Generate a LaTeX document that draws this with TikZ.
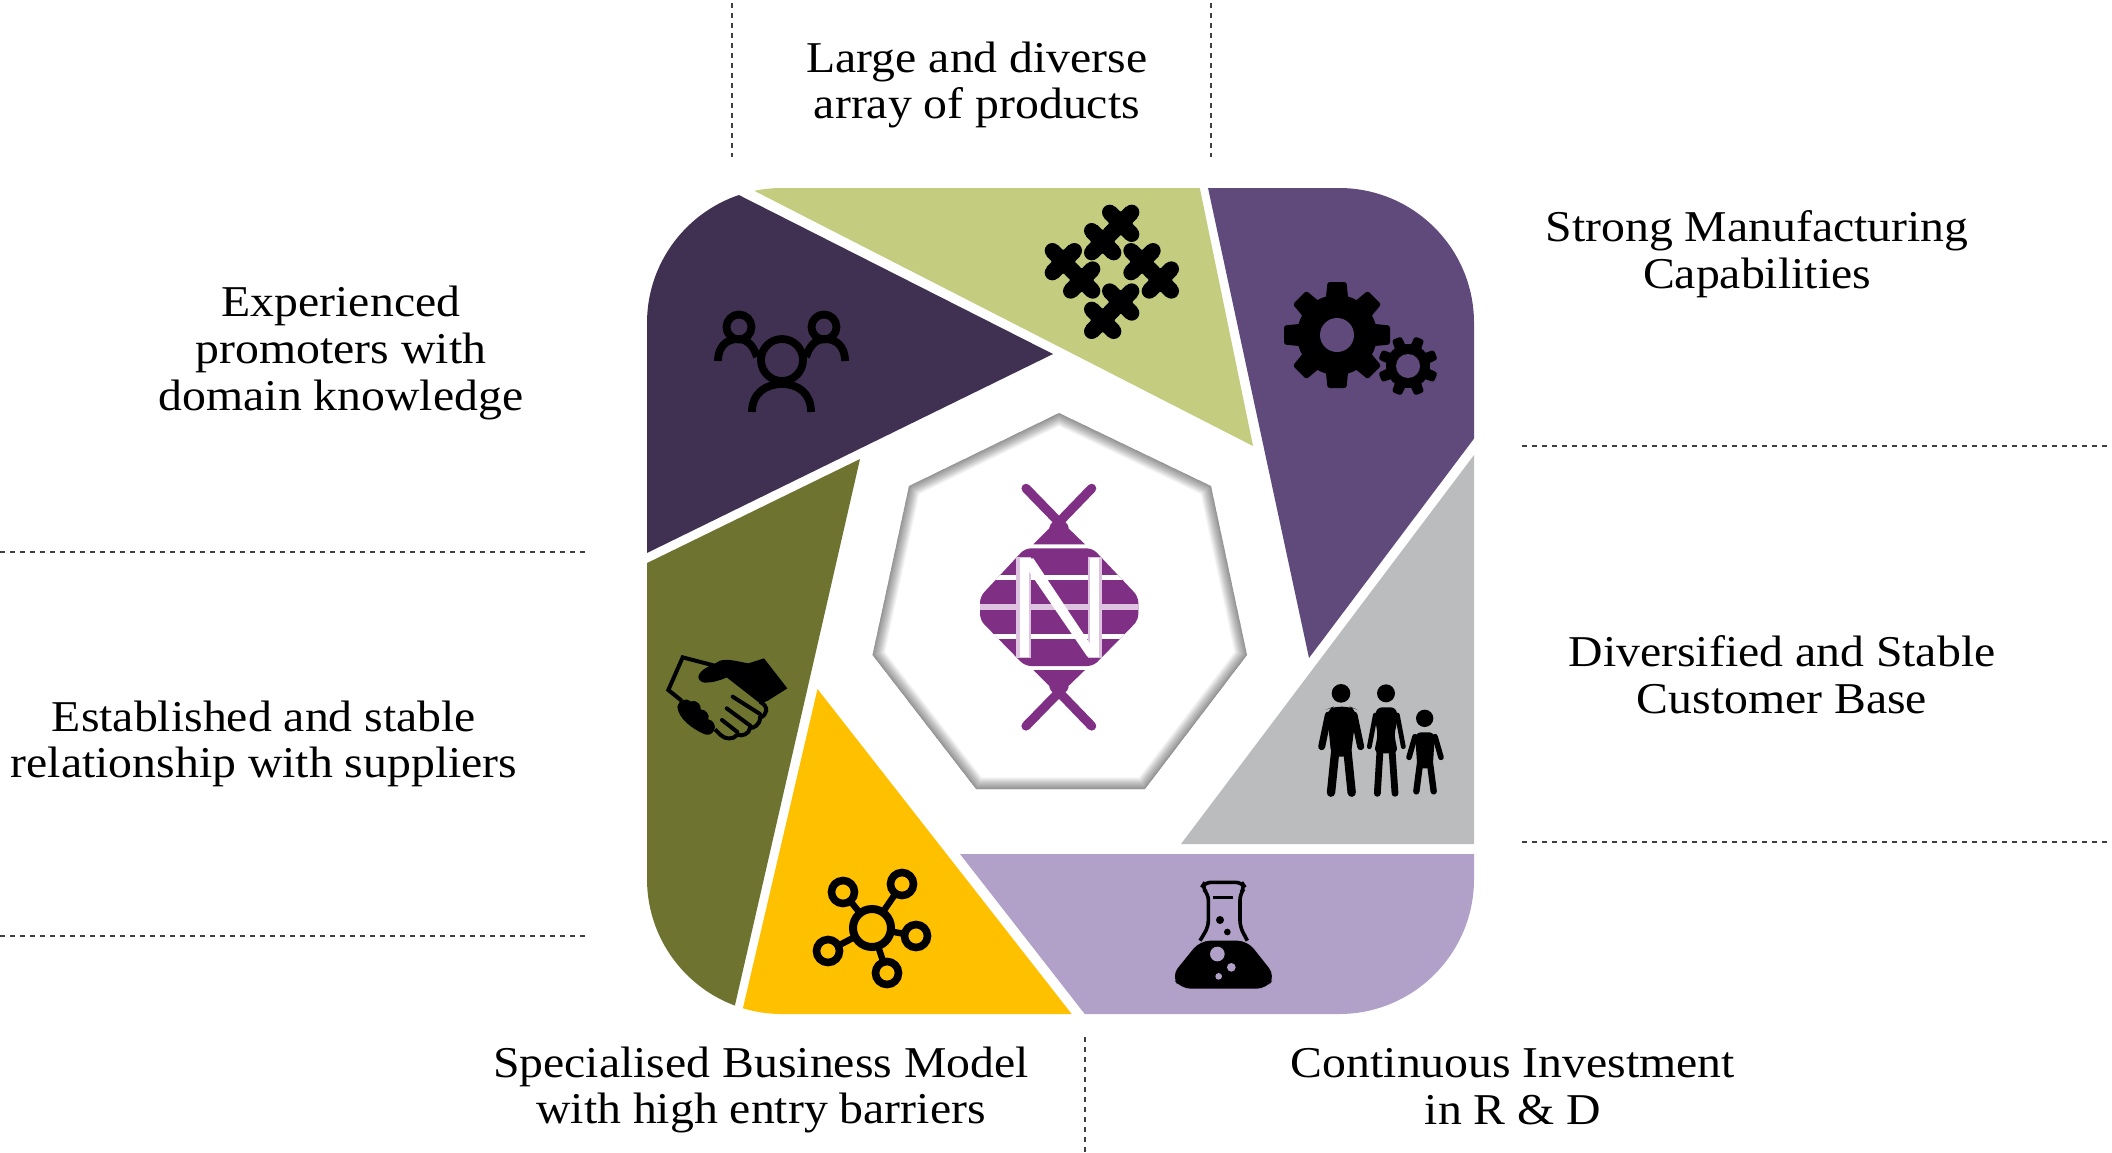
\documentclass[tikz,border=0pt]{standalone}
\usepackage{fontspec}
\setmainfont[FakeStretch=1.085]{Liberation Serif}
\definecolor{cdark}{HTML}{403152}
\definecolor{cgreen}{HTML}{C3CC7F}
\definecolor{cpurple}{HTML}{604A7B}
\definecolor{cgray}{HTML}{BBBCBE}
\definecolor{clav}{HTML}{B1A0C7}
\definecolor{cyellow}{HTML}{FFC000}
\definecolor{colive}{HTML}{6E7430}
\definecolor{clogo}{HTML}{7F2F84}
\definecolor{cpale}{HTML}{DDC3E0}
\tikzset{
  label/.style={font=\fontsize{22}{23.4}\selectfont,align=center,text=black,inner sep=0pt},
  guide/.style={draw=black!75,line width=.7pt,dash pattern=on 2.5pt off 2.5pt},
  shade edge/.style={draw=black,opacity=.018,line join=miter}
}
\newcommand{\pzx}[2]{%
  \fill[black] (#1-33,#2-33) circle (23) (#1+33,#2-33) circle (23) (#1-33,#2+33) circle (23) (#1+33,#2+33) circle (23) (#1,#2) circle (36);
  \draw[black,line width=8pt] (#1-33,#2-33) -- (#1+33,#2+33) (#1+33,#2-33) -- (#1-33,#2+33);
}
\newcommand{\pzchain}[4]{%
  \pzx{#1}{#2}\pzx{#3}{#4}
}
% tooth: centre x, centre y, angle, base half width, tip half width, outer radius
\newcommand{\gtooth}[6]{%
  \fill[black,rounded corners=1.2pt,shift={(#1,#2)},rotate=#3] (#6-25,#4) -- (#6,#5) -- (#6,-#5) -- (#6-25,-#4) -- cycle;
}
\begin{document}
\begin{tikzpicture}[x=.5pt,y=-.5pt]
\useasboundingbox (0,0) rectangle (2112,1152);
\fill[white] (0,0) rectangle (2112,1152);

% dashed guides
\coordinate (g1a) at (732,3); \coordinate (g1b) at (732,157);
\coordinate (g2a) at (1211,3); \coordinate (g2b) at (1211,157);
\coordinate (g3a) at (1522,446); \coordinate (g3b) at (2112,446);
\coordinate (g4a) at (1522,842); \coordinate (g4b) at (2112,842);
\coordinate (g5a) at (0,552); \coordinate (g5b) at (587,552);
\coordinate (g6a) at (0,936); \coordinate (g6b) at (587,936);
\coordinate (g7a) at (1085,1037); \coordinate (g7b) at (1085,1152);
\foreach \n in {1,...,7} \draw[guide] (g\n a) -- (g\n b);

% sectors
\begin{scope}
\clip[rounded corners=67.5pt] (647,188) rectangle (1474,1014);
\fill[cdark] (1053,354) -- (640,145) -- (600,145) -- (600,576) -- cycle;
\fill[cgreen] (1253,446) -- (1194,160) -- (700,163) -- cycle;
\fill[cpurple] (1309,658) -- (1500,404) -- (1500,160) -- (1202,160) -- cycle;
\fill[cgray] (1474,455) -- (1181,844) -- (1500,844) -- (1500,455) -- cycle;
\fill[clav] (960,854) -- (1500,854) -- (1500,1040) -- (1105,1040) -- cycle;
\fill[cyellow] (817.5,689) -- (1092,1040) -- (735.5,1040) -- cycle;
\fill[colive] (860,459) -- (600,586) -- (600,1040) -- (727,1040) -- cycle;
\end{scope}

% central heptagon with inner shadow
\begin{scope}
\clip (1059,413) -- (1211,486) -- (1247,655) -- (1145,789) -- (976,789) -- (872.5,655) -- (909,486) -- cycle;
\foreach \w in {12,11.5,...,0.5}
  \draw[shade edge,line width=\w pt] (1059,413) -- (1211,486) -- (1247,655) -- (1145,789) -- (976,789) -- (872.5,655) -- (909,486) -- cycle;
\end{scope}

% logo
\begin{scope}[shift={(940,450)},scale=.33333]
\begin{scope}
\clip[rounded corners=3pt] (255,295) -- (458,295) -- (595,440) -- (595,510) -- (460,648) -- (255,648) -- (120,510) -- (120,440) -- cycle;
\fill[clogo] (100,280) rectangle (620,660);
\fill[white] (110,375) rectangle (605,390);
\fill[cpale] (110,463) rectangle (605,480);
\fill[white] (110,552) rectangle (605,568);
\fill[cpale] (228,320) rectangle (272,625);
\fill[cpale] (443,320) rectangle (486,625);
\end{scope}
\fill[clogo] (280,283) -- (435,283) -- (375,225) -- (338,225) -- cycle;
\fill[clogo] (280,660) -- (435,660) -- (375,718) -- (338,718) -- cycle;
\draw[clogo,line width=4.6pt,line cap=round] (258,115) -- (372,232) (455,115) -- (342,232);
\draw[clogo,line width=4.6pt,line cap=round] (258,828) -- (372,711) (455,828) -- (342,711);
\fill[white] (240,325) rectangle (266,620);
\fill[white] (450,325) rectangle (476,620);
\fill[white] (240,325) -- (280,325) -- (476,620) -- (442,620) -- cycle;
\end{scope}

% people icon
\begin{scope}[black,line width=3.9pt]
\draw (739,327) circle (12.5);
\draw (824,327) circle (12.5);
\draw (782,360) circle (21);
\draw (752,412) .. controls (752,393) and (766,384) .. (782,384) .. controls (798,384) and (811,393) .. (811,412);
\draw (718,361) .. controls (718,346) and (727,339) .. (738,339) .. controls (748,339) and (754,347) .. (757,357);
\draw (845,361) .. controls (845,346) and (836,339) .. (825,339) .. controls (815,339) and (809,347) .. (806,357);
\end{scope}

% puzzle icon
\begin{scope}[shift={(1030,190)},scale=.33333]
\pzchain{272}{100}{218}{155}
\pzchain{100}{215}{155}{270}
\pzchain{336}{215}{391}{270}
\pzchain{272}{336}{218}{391}
\end{scope}

% gears
\foreach \a in {0,45,...,315} {\gtooth{1337}{335}{\a}{12}{9.5}{53}}
\fill[black] (1337,335) circle (40);
\fill[cpurple] (1337,335) circle (17);
\foreach \a in {22.5,67.5,...,337.5} {\gtooth{1408}{366}{\a}{6.5}{5}{30}}
\fill[black] (1408,366) circle (22);
\fill[cpurple] (1408,366) circle (12);

% handshake
\begin{scope}[shift={(650,640)},scale=.33333]
\draw[black,line width=2pt,line join=miter] (190,76) -- (98,52) -- (55,150) -- (95,182);
\fill[black] (145,110) .. controls (150,85) and (190,75) .. (210,62) .. controls (235,55) and (265,65) .. (295,70) -- (342,55) -- (412,145) -- (352,183) -- (330,190) -- (230,112) .. controls (210,122) and (185,128) .. (165,128) .. controls (155,128) and (145,120) .. (145,110) -- cycle;
\draw[black,line width=2pt] (330,185) .. controls (358,200) and (352,225) .. (330,233) .. controls (330,255) and (310,265) .. (300,264) .. controls (298,282) and (275,290) .. (262,284) .. controls (250,300) and (225,298) .. (212,285) -- (195,268);
\fill[black] (82,200) .. controls (85,180) and (110,172) .. (122,184) .. controls (140,178) and (155,195) .. (152,208) .. controls (168,208) and (180,225) .. (175,238) .. controls (190,240) and (200,258) .. (192,272) .. controls (185,285) and (170,288) .. (158,280) .. controls (125,265) and (85,235) .. (82,200) -- cycle;
\draw[black,line width=2pt,line cap=round] (248,170) -- (330,222) (230,205) -- (302,258) (216,240) -- (262,276);
\end{scope}

% network icon
\foreach \p in {(843,892),(902,884),(916,936),(887,973),(828,951)} {
  \draw[black,line width=3.2pt] (872,928) -- \p;
  \filldraw[fill=cyellow,draw=black,line width=3.8pt] \p circle (11.5);
}
\filldraw[fill=cyellow,draw=black,line width=4pt] (872,928) circle (19);

% flask
\begin{scope}[shift={(1160,870)},scale=.33333]
\draw[black,line width=1.8pt,rounded corners=3pt] (120,212) -- (145,170) -- (145,72) -- (125,52) -- (135,37) -- (245,37) -- (255,52) -- (240,72) -- (240,170) -- (262,212);
\fill[black,rounded corners=5pt] (120,212) -- (262,212) -- (346,318) -- (320,356) -- (62,356) -- (34,318) -- cycle;
\draw[black,line width=1.8pt] (160,82) -- (218,82);
\fill[black] (180,150) circle (12) (202,186) circle (10);
\fill[clav] (172,252) circle (22) (214,292) circle (13) (176,319) circle (10);
\end{scope}

% family
\begin{scope}[shift={(1300,670)},scale=.33333]
\fill[black] (123,70) circle (28) (258,70) circle (27) (374,145) circle (26);
% man
\fill[black,rounded corners=4pt] (80,118) -- (100,110) -- (150,110) -- (170,118) -- (152,260) -- (94,260) -- cycle;
\draw[black,line width=3.5pt,line cap=round] (85,135) -- (65,230) (162,135) -- (182,230);
\draw[black,line width=4.2pt,line cap=round] (106,240) -- (93,368) (142,240) -- (155,368);
% woman
\fill[black,rounded corners=3pt] (228,112) -- (290,112) -- (292,160) -- (282,190) -- (294,250) -- (222,250) -- (234,190) -- (226,160) -- cycle;
\draw[black,line width=2.4pt,line cap=round] (226,135) -- (208,230) (292,135) -- (310,230);
\draw[black,line width=3.4pt,line cap=round] (240,240) -- (232,370) (276,240) -- (285,370);
% child
\fill[black,rounded corners=3pt] (345,187) -- (405,187) -- (398,295) -- (352,295) -- cycle;
\draw[black,line width=2.8pt,line cap=round] (345,200) -- (327,262) (405,200) -- (423,262);
\draw[black,line width=3.2pt,line cap=round] (360,280) -- (349,364) (390,280) -- (401,364);
\end{scope}

% labels
\node[label] (t1) at (977,85) {Large and diverse\\array of products};
\node[label] (t2) at (1757,254) {Strong Manufacturing\\Capabilities};
\node[label] (t3) at (341,353) {Experienced\\promoters with\\domain knowledge};
\node[label] (t4) at (264,744) {Established and stable\\relationship with suppliers};
\node[label] (t5) at (1782,675) {Diversified and Stable\\Customer Base};
\node[label] (t6) at (761,1090) {Specialised Business Model\\with high entry barriers};
\node[label] (t7) at (1513,1087) {Continuous Investment\\in R \& D};
\end{tikzpicture}
\end{document}
